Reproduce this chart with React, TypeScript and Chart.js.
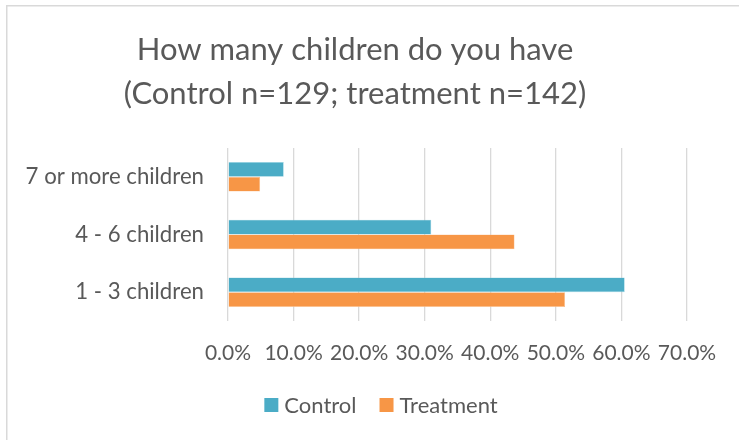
import React, { useEffect, useRef } from "react";
import { Chart, registerables } from "chart.js";

Chart.register(...registerables);

const categories = ["7 or more children", "4 - 6 children", "1 - 3 children"];
const controlPct = [8.5, 31.0, 60.5];
const treatmentPct = [4.9, 43.7, 51.4];
const titleLines = ["How many children do you have", "(Control n=129; treatment n=142)"];
const xMax = 70;
const xStep = 10;

const TEXT = "#595959";
const GRID = "#d9d9d9";
const FONT = "Lato, 'Open Sans', sans-serif";
const CONTROL_COLOR = "#4BACC6";
const TREATMENT_COLOR = "#F79646";

// centre line of the whole chart box (the frame runs on past the right edge)
const BOX_CENTER_X = 355;

// white background and a light grey frame along the top and left edges
const framePlugin = {
  id: "frame",
  beforeDraw(chart: Chart) {
    const ctx = chart.ctx;
    ctx.save();
    ctx.fillStyle = "#ffffff";
    ctx.fillRect(0, 0, chart.width, chart.height);
    ctx.fillStyle = GRID;
    ctx.fillRect(6, 5, chart.width - 6, 1.5);
    ctx.fillRect(6, 5, 1.5, chart.height - 5);
    ctx.restore();
  },
};

// two-line heading centred on the chart box
const headingPlugin = {
  id: "heading",
  afterDraw(chart: Chart) {
    const ctx = chart.ctx;
    ctx.save();
    ctx.font = `31px ${FONT}`;
    ctx.fillStyle = TEXT;
    ctx.textAlign = "center";
    ctx.textBaseline = "alphabetic";
    titleLines.forEach((line, i) => {
      ctx.fillText(line, BOX_CENTER_X, 60 + i * 44);
    });
    ctx.restore();
  },
};

// legend row under the axis: square swatch, small gap, series name
const legendRowPlugin = {
  id: "legendRow",
  afterDraw(chart: Chart) {
    const ctx = chart.ctx;
    const box = 14;
    const gap = 6;
    const itemGap = 23;
    const centerX = 381;
    const centerY = chart.height - 35;
    ctx.save();
    ctx.font = `22px ${FONT}`;
    ctx.textBaseline = "middle";
    const items = chart.data.datasets.map((ds: any) => ({
      label: ds.label as string,
      color: ds.backgroundColor as string,
      w: box + gap + ctx.measureText(ds.label).width,
    }));
    const total = items.reduce((s, it) => s + it.w, 0) + itemGap * (items.length - 1);
    let x = centerX - total / 2;
    for (const it of items) {
      ctx.fillStyle = it.color;
      ctx.fillRect(x, centerY - box / 2, box, box);
      ctx.fillStyle = TEXT;
      ctx.textAlign = "left";
      ctx.fillText(it.label, x + box + gap, centerY + 1);
      x += it.w + itemGap;
    }
    ctx.restore();
  },
};

export default function App() {
  const ref = useRef<HTMLCanvasElement | null>(null);

  useEffect(() => {
    if (!ref.current) return;
    const chart = new Chart(ref.current, {
      type: "bar",
      data: {
        labels: categories,
        datasets: [
          {
            label: "Control",
            data: controlPct,
            backgroundColor: CONTROL_COLOR,
            borderColor: "#8fd0e0",
            borderWidth: 0.6,
            barPercentage: 1,
            categoryPercentage: 0.513,
          },
          {
            label: "Treatment",
            data: treatmentPct,
            backgroundColor: TREATMENT_COLOR,
            borderColor: "#fbc08e",
            borderWidth: 0.6,
            barPercentage: 1,
            categoryPercentage: 0.513,
          },
        ],
      },
      options: {
        indexAxis: "y",
        responsive: false,
        animation: false,
        layout: { padding: { top: 148, right: 52, bottom: 57, left: 0 } },
        scales: {
          x: {
            min: 0,
            max: xMax,
            border: { display: false },
            grid: { color: GRID, lineWidth: 1.3, drawTicks: false },
            ticks: {
              stepSize: xStep,
              padding: 20,
              color: TEXT,
              font: { family: FONT, size: 21 },
              callback: (v: any) => Number(v).toFixed(1) + "%",
            },
            afterFit: (scale: any) => {
              scale.height = 62;
            },
          },
          y: {
            border: { display: false },
            grid: { display: false, drawTicks: false },
            ticks: {
              padding: 24,
              color: TEXT,
              font: { family: FONT, size: 22.2 },
            },
            afterFit: (scale: any) => {
              scale.width = 228;
            },
          },
        },
        plugins: {
          title: { display: false },
          legend: { display: false },
          tooltip: { enabled: false },
        },
      },
      plugins: [framePlugin, headingPlugin, legendRowPlugin],
    });
    return () => chart.destroy();
  }, []);

  return (
    <div style={{ position: "absolute", left: 0, top: 0, width: 739, height: 440 }}>
      <canvas ref={ref} width={739} height={440} />
    </div>
  );
}
